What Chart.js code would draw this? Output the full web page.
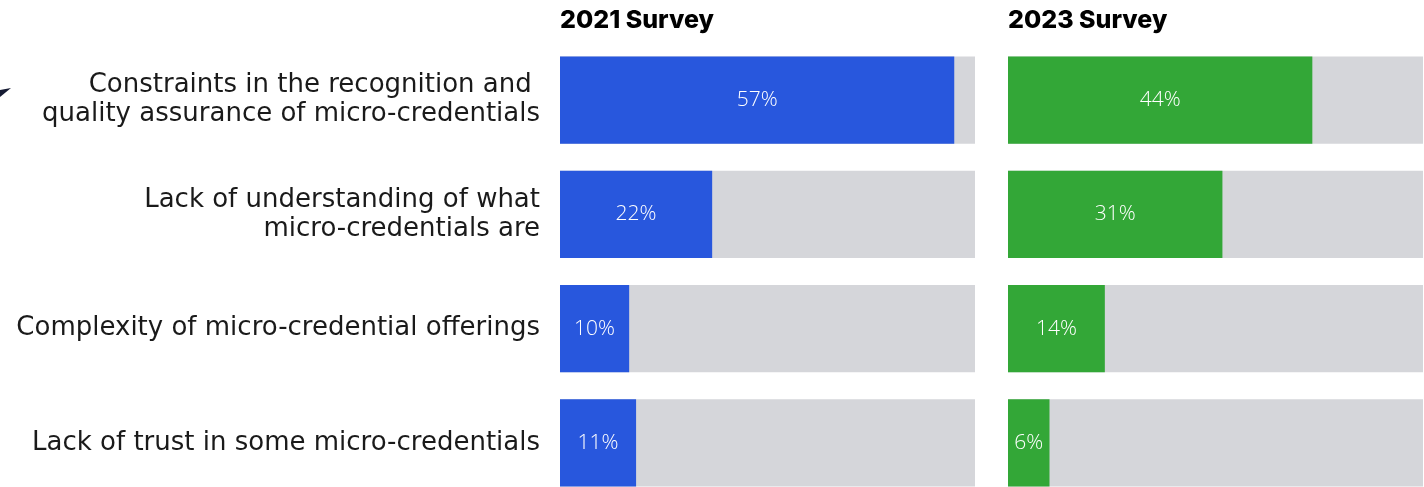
<!doctype html>
<html>
<head>
    <title>Micro-credential barriers</title>
    <script src="https://cdn.jsdelivr.net/npm/chart.js@4.4.1/dist/chart.umd.min.js"></script>
    <style>
        html, body{
            margin: 0px;
            width: 1424px;
            height: 487px;
            overflow: hidden;
            background: #fff;
        }
        #c2021{
            position: absolute;
            left: 0px;
            top: 0px;
        }
        #c2023{
            position: absolute;
            left: 1008px;
            top: 0px;
        }
    </style>
</head>
<body>
    <canvas id="c2021" width="975" height="500"></canvas>
    <canvas id="c2023" width="415" height="500"></canvas>

    <script>
        // data (percent of respondents)
        var categories = [
            ["Constraints in the recognition and ", "quality assurance of micro-credentials"],
            ["Lack of understanding of what", "micro-credentials are"],
            "Complexity of micro-credential offerings",
            "Lack of trust in some micro-credentials"
        ];
        var survey2021 = [57, 22, 10, 11];
        var survey2023 = [44, 31, 14, 6];
        var track = [60, 60, 60, 60];   // grey background track = axis max
        var axisMax = 60;

        var BLUE = '#2857dd';
        var GREEN = '#33a737';
        var GREY = '#d5d6da';
        var LABEL_FONT = 'DejaVu Sans';
        var VALUE_FONT = 'Open Sans';

        // white percentage inside each coloured bar
        var valueLabels = {
            id: 'valueLabels',
            afterDatasetsDraw: function(chart){
                var ctx = chart.ctx;
                var meta = chart.getDatasetMeta(0);
                var data = chart.data.datasets[0].data;
                ctx.save();
                ctx.fillStyle = '#ffffff';
                ctx.font = '300 21px ' + VALUE_FONT;
                ctx.textAlign = 'center';
                ctx.textBaseline = 'middle';
                meta.data.forEach(function(bar, i){
                    ctx.fillText(data[i] + '%', (bar.x + bar.base) / 2, bar.y);
                });
                ctx.restore();
            }
        };

        // little dark arrow head peeking in at the left edge
        var arrowHead = {
            id: 'arrowHead',
            afterDraw: function(chart){
                var ctx = chart.ctx;
                ctx.save();
                ctx.fillStyle = '#161b33';
                ctx.beginPath();
                ctx.moveTo(0, 90);
                ctx.lineTo(11, 88);
                ctx.lineTo(0, 97);
                ctx.closePath();
                ctx.fill();
                ctx.restore();
            }
        };

        function makeChart(id, title, values, colour, showLabels){
            var ctx = document.getElementById(id).getContext('2d');
            return new Chart(ctx, {
                type: 'bar',
                data: {
                    labels: categories,
                    datasets: [{
                        label: title,
                        data: values,
                        backgroundColor: colour,
                        grouped: false,
                        order: 1,
                        barPercentage: 0.87,
                        categoryPercentage: 0.877
                    }, {
                        label: 'track',
                        data: track,
                        backgroundColor: GREY,
                        grouped: false,
                        order: 2,
                        barPercentage: 0.87,
                        categoryPercentage: 0.877
                    }]
                },
                options: {
                    indexAxis: 'y',
                    responsive: false,
                    animation: false,
                    layout: { padding: 0 },
                    plugins: {
                        legend: { display: false },
                        tooltip: { enabled: false },
                        title: {
                            display: true,
                            text: title,
                            align: 'start',
                            fullSize: false,
                            color: '#000',
                            font: { family: 'Inter', size: 25, weight: '800' },
                            padding: { top: 5, bottom: 8 }
                        }
                    },
                    scales: {
                        x: {
                            display: false,
                            min: 0,
                            max: axisMax
                        },
                        y: {
                            display: showLabels,
                            grid: { display: false, drawTicks: false },
                            border: { display: false },
                            ticks: {
                                color: '#1a1a1a',
                                padding: 20,
                                font: { family: LABEL_FONT, size: 26, lineHeight: 1.115 }
                            },
                            afterFit: function(scale){
                                if(showLabels){
                                    scale.width = 560;
                                    scale.paddingTop = 0;
                                    scale.paddingBottom = 0;
                                }
                            }
                        }
                    }
                },
                plugins: showLabels ? [valueLabels, arrowHead] : [valueLabels]
            });
        }

        window.onload = function(){
            makeChart('c2021', '2021 Survey', survey2021, BLUE, true);
            makeChart('c2023', '2023 Survey', survey2023, GREEN, false);
        };
    </script>
</body>
</html>
